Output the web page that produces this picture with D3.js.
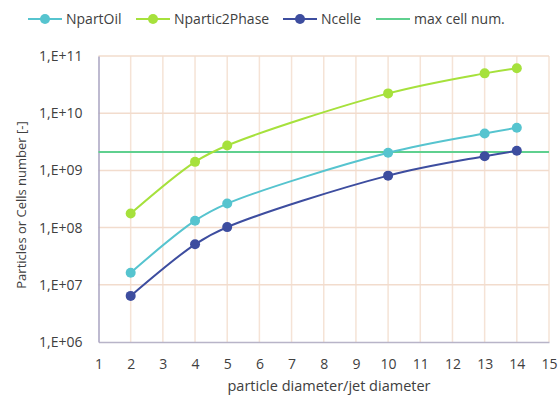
<!DOCTYPE html>
<html>
<head>
<meta charset="utf-8">
<script src="https://cdn.jsdelivr.net/npm/d3@7"></script>
<style>
  body { margin: 0; background: #fff; }
  text { font-family: "Open Sans", "Noto Sans", sans-serif; fill: #404040; }
</style>
</head>
<body>
<div id="chart"></div>
<script>
// data
var xValues = [2, 4, 5, 10, 13, 14];
var npartOil = [1.63e7, 1.32e8, 2.63e8, 2.03e9, 4.43e9, 5.56e9];
var npartic2Phase = [1.76e8, 1.41e9, 2.73e9, 2.22e10, 4.97e10, 6.1e10];
var ncelle = [6.4e6, 5.1e7, 1.02e8, 8.1e8, 1.77e9, 2.2e9];
var maxCellNum = 2.1e9;
var xTicks = [1, 2, 3, 4, 5, 6, 7, 8, 9, 10, 11, 12, 13, 14, 15];
var yTicks = [1e6, 1e7, 1e8, 1e9, 1e10, 1e11];
var yTickLabels = ["1,E+06", "1,E+07", "1,E+08", "1,E+09", "1,E+10", "1,E+11"];

var series = [
  {name: "NpartOil", values: npartOil, color: "#56c4cf"},
  {name: "Npartic2Phase", values: npartic2Phase, color: "#a6e13c"},
  {name: "Ncelle", values: ncelle, color: "#3d4d9f"}
];

var w = 559, h = 396;
var padLeft = 98.5, padRight = 549, padTop = 56, padBottom = 342;

var svg = d3.select("#chart").append("svg")
    .attr("width", w)
    .attr("height", h);

var xScale = d3.scaleLinear().domain([1, 15]).range([padLeft, padRight]);
var yScale = d3.scaleLog().domain([1e6, 1e11]).range([padBottom, padTop]);

// gridlines
svg.append("g").selectAll("line")
    .data(xTicks.slice(1))
    .enter().append("line")
    .attr("x1", function(d) { return xScale(d); })
    .attr("x2", function(d) { return xScale(d); })
    .attr("y1", padTop)
    .attr("y2", padBottom)
    .attr("stroke", "#f5e3d6")
    .attr("stroke-width", 1.5);

svg.append("g").selectAll("line")
    .data(yTicks.slice(1))
    .enter().append("line")
    .attr("x1", padLeft)
    .attr("x2", padRight)
    .attr("y1", function(d) { return yScale(d); })
    .attr("y2", function(d) { return yScale(d); })
    .attr("stroke", "#f2dccd")
    .attr("stroke-width", 1.5);

// axes
var xAxis = d3.axisBottom(xScale).tickValues(xTicks).tickSize(0).tickPadding(17);
var gx = svg.append("g")
    .attr("transform", "translate(0," + padBottom + ")")
    .call(xAxis);
gx.select(".domain").attr("stroke", "#b8b4c8").attr("stroke-width", 1.5);
gx.selectAll("text").style("font-size", "14px");

var yAxis = d3.axisLeft(yScale).tickValues(yTicks)
    .tickFormat(function(d, i) { return yTickLabels[i]; })
    .tickSize(0).tickPadding(16);
var gy = svg.append("g")
    .attr("transform", "translate(" + padLeft + ",0)")
    .call(yAxis);
gy.select(".domain").attr("stroke", "#a9a3c0").attr("stroke-width", 1.5);
gy.selectAll("text").style("font-size", "14px");

// max cell line
svg.append("line")
    .attr("x1", padLeft)
    .attr("x2", padRight)
    .attr("y1", yScale(maxCellNum))
    .attr("y2", yScale(maxCellNum))
    .attr("stroke", "#5fd08f")
    .attr("stroke-width", 2);

// series
var line = d3.line()
    .x(function(d) { return xScale(d[0]); })
    .y(function(d) { return yScale(d[1]); })
    .curve(d3.curveCatmullRom.alpha(0.5));

series.forEach(function(s) {
  var pts = xValues.map(function(x, i) { return [x, s.values[i]]; });
  svg.append("path")
      .datum(pts)
      .attr("d", line)
      .attr("fill", "none")
      .attr("stroke", s.color)
      .attr("stroke-width", 2);
  svg.append("g").selectAll("circle")
      .data(pts)
      .enter().append("circle")
      .attr("cx", function(d) { return xScale(d[0]); })
      .attr("cy", function(d) { return yScale(d[1]); })
      .attr("r", 5)
      .attr("fill", s.color);
});

// axis titles
svg.append("text")
    .attr("x", 329)
    .attr("y", 391)
    .attr("text-anchor", "middle")
    .style("font-size", "14.5px")
    .text("particle diameter/jet diameter");

svg.append("text")
    .attr("transform", "translate(26,205) rotate(-90)")
    .attr("text-anchor", "middle")
    .style("font-size", "13px")
    .text("Particles or Cells number [-]");

// legend
var legendItems = [
  {name: "NpartOil", color: "#56c4cf", marker: true, x: 28},
  {name: "Npartic2Phase", color: "#a6e13c", marker: true, x: 136},
  {name: "Ncelle", color: "#3d4d9f", marker: true, x: 283},
  {name: "max cell num.", color: "#5fd08f", marker: false, x: 376}
];
var lg = svg.append("g").attr("transform", "translate(0,19)");
legendItems.forEach(function(d) {
  lg.append("line")
      .attr("x1", d.x).attr("x2", d.x + 34)
      .attr("y1", 0).attr("y2", 0)
      .attr("stroke", d.color)
      .attr("stroke-width", 2);
  if (d.marker) {
    lg.append("circle")
        .attr("cx", d.x + 17).attr("cy", 0).attr("r", 5)
        .attr("fill", d.color);
  }
  lg.append("text")
      .attr("x", d.x + 38)
      .attr("y", 5)
      .style("font-size", "14px")
      .text(d.name);
});
</script>
</body>
</html>
